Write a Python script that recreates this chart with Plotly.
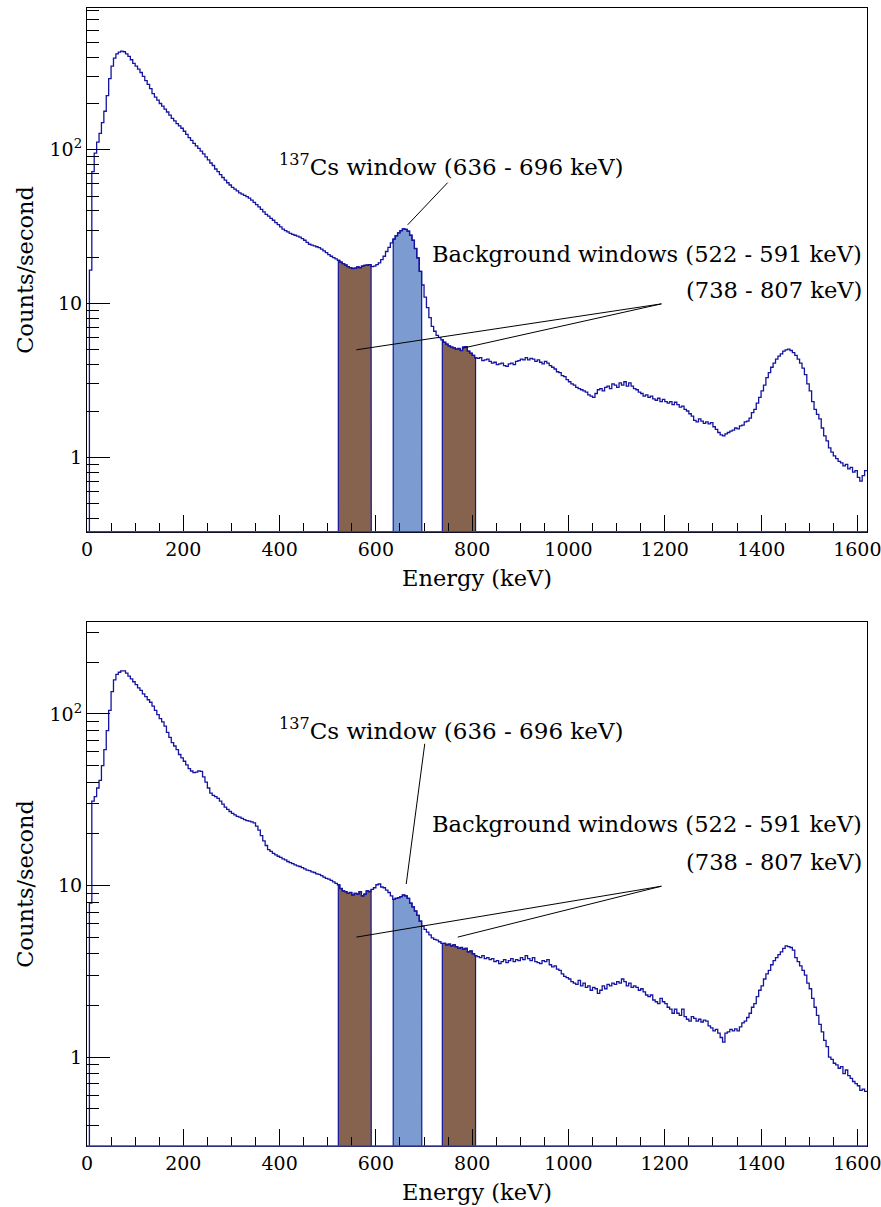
import plotly.graph_objects as go

# ---------------- data ----------------
ENERGY_EDGES = list(range(5, 1625, 5))  # keV bin edges, 5 keV bins from 5 to 1620

COUNTS_TOP = [
    16.5, 72, 95, 112, 128, 150, 178, 225, 290, 350, 395, 420, 432, 438, 434, 420, 405, 385, 365,
    350, 335, 318, 300, 282, 266, 250, 232, 220, 210, 200, 192, 184, 176, 168, 160, 154, 148, 143, 138,
    132, 126, 120, 115, 110, 106, 102, 98, 94, 90, 86, 82, 79, 75, 72, 69, 66, 63.5, 61, 59,
    57, 55.5, 54, 52.5, 51.5, 50.5, 49.5, 48.5, 47, 45.5, 44, 42.5, 41, 39.5, 38, 37, 35.8, 34.8, 33.6, 32.6,
    31.5, 30.5, 29.8, 29.2, 28.6, 28.2, 27.8, 27.4, 27, 26.4, 25.8, 25, 24.3, 24, 23.7, 23.4, 23.1, 22.6, 22, 21.4,
    20.8, 20.3, 19.9, 19.5, 19.1, 18.6, 18.2, 17.8, 17.4, 17.1, 16.9, 17.0, 17.3, 17.1, 17.5, 17.7, 17.8, 17.9, 17.4, 17.5,
    17.9, 18.4, 19.3, 20.3, 21.8, 23.2, 24.8, 26.2, 27.6, 28.8, 29.8, 30.6, 30.4, 29.6, 27.8, 25.8, 22.8, 19.8, 16.2, 13.2,
    11.0, 9.4, 8.1, 7.1, 6.6, 6.2, 6.0, 5.8, 5.6, 5.45, 5.3, 5.2, 5.15, 5.05, 5.1, 4.95, 5.2, 5.25, 4.9, 4.75,
    4.6, 4.45, 4.4, 4.45, 4.25, 4.3, 4.35, 4.2, 4.1, 4.15, 4.0, 4.05, 4.1, 3.95, 3.9, 4.05, 4.1, 4.0, 4.2, 4.25,
    4.35, 4.3, 4.45, 4.3, 4.4, 4.35, 4.2, 4.3, 4.15, 4.05, 4.2, 4.1, 3.95, 3.85, 3.75, 3.6, 3.55, 3.4, 3.35, 3.2,
    3.1, 3.0, 2.95, 2.85, 2.8, 2.75, 2.7, 2.65, 2.55, 2.5, 2.45, 2.6, 2.75, 2.8, 2.7, 2.85, 2.9, 2.8, 3.0, 2.95,
    2.85, 3.05, 2.95, 3.1, 2.9, 3.05, 2.9, 2.8, 2.75, 2.65, 2.6, 2.5, 2.55, 2.45, 2.5, 2.4, 2.35, 2.42, 2.3, 2.38,
    2.3, 2.25, 2.3, 2.2, 2.28, 2.2, 2.12, 2.15, 2.05, 2.0, 1.92, 1.85, 1.74, 1.7, 1.78, 1.72, 1.66, 1.7, 1.65, 1.68,
    1.58, 1.52, 1.45, 1.4, 1.38, 1.42, 1.45, 1.48, 1.5, 1.55, 1.53, 1.6, 1.62, 1.7, 1.72, 1.8, 1.95, 2.05, 2.25, 2.45,
    2.7, 2.95, 3.3, 3.55, 3.85, 4.1, 4.35, 4.55, 4.7, 4.9, 5.0, 5.05, 4.95, 4.8, 4.6, 4.35, 4.1, 3.8, 3.45, 3.0,
    2.7, 2.3, 2.05, 1.9, 1.78, 1.55, 1.38, 1.28, 1.15, 1.08, 1.02, 0.98, 0.94, 0.92, 0.88, 0.9, 0.84, 0.86, 0.8, 0.82,
    0.74, 0.7, 0.76, 0.82,
]

COUNTS_BOTTOM = [
    7.9, 31, 33, 37, 41, 50, 62, 80, 105, 135, 158, 170, 175, 178, 178, 173, 166, 160, 154,
    148, 142, 137, 131, 126, 121, 117, 111, 105, 99, 94, 90, 85, 78, 73, 68, 65, 62, 58, 55.5,
    53, 50.5, 48, 46.5, 45.5, 45.8, 46.6, 46.2, 43, 40, 37, 34.5, 33.5, 33, 32.2, 31, 29.8, 28.6, 27.8, 27,
    26.3, 25.8, 25.3, 25, 24.6, 24.2, 23.9, 23.7, 23.5, 23.2, 22.2, 21, 19.5, 18.2, 17.1, 16.2, 15.8, 15.4, 15.1, 14.8,
    14.6, 14.3, 14.1, 13.8, 13.6, 13.4, 13.2, 13.0, 12.9, 12.7, 12.5, 12.3, 12.2, 12.0, 11.9, 11.7, 11.6, 11.4, 11.2, 11.0,
    10.9, 10.7, 10.5, 10.3, 10.1, 9.6, 9.3, 9.2, 9.0, 9.1, 8.8, 9.0, 8.9, 9.2, 8.7, 8.9, 9.3, 9.2, 9.5, 9.7,
    10.1, 10.2, 9.8, 9.7, 9.4, 9.1, 8.7, 8.3, 8.4, 8.5, 8.6, 8.8, 8.7, 8.4, 7.9, 7.5, 7.1, 6.7, 6.2, 5.8,
    5.55, 5.35, 5.15, 4.95, 4.85, 4.8, 4.7, 4.6, 4.6, 4.5, 4.55, 4.45, 4.5, 4.4, 4.3, 4.35, 4.25, 4.3, 4.1, 4.15,
    4.0, 3.9, 3.85, 3.8, 3.9, 3.75, 3.8, 3.7, 3.75, 3.6, 3.65, 3.5, 3.6, 3.7, 3.55, 3.65, 3.75, 3.6, 3.7, 3.65,
    3.8, 3.7, 3.9, 3.75, 3.65, 3.8, 3.6, 3.55, 3.5, 3.65, 3.6, 3.7, 3.45, 3.35, 3.4, 3.25, 3.2, 3.05, 2.95, 2.9,
    2.85, 2.75, 2.7, 2.65, 2.8, 2.6, 2.7, 2.55, 2.6, 2.45, 2.55, 2.5, 2.35, 2.45, 2.6, 2.5, 2.65, 2.6, 2.7, 2.65,
    2.75, 2.7, 2.85, 2.75, 2.6, 2.7, 2.55, 2.6, 2.55, 2.45, 2.5, 2.4, 2.3, 2.25, 2.3, 2.15, 2.1, 2.05, 2.2, 2.1,
    2.05, 1.95, 1.9, 1.8, 1.9, 1.8, 1.75, 1.9, 1.72, 1.66, 1.62, 1.72, 1.68, 1.62, 1.66, 1.6, 1.64, 1.62, 1.52, 1.48,
    1.42, 1.45, 1.38, 1.3, 1.22, 1.38, 1.4, 1.45, 1.42, 1.46, 1.42, 1.5, 1.58, 1.62, 1.7, 1.8, 1.95, 2.05, 2.25, 2.45,
    2.6, 2.85, 3.05, 3.2, 3.45, 3.65, 3.8, 3.95, 4.1, 4.3, 4.45, 4.4, 4.35, 4.2, 3.8, 3.6, 3.4, 3.2, 3.0, 2.7,
    2.5, 2.2, 1.95, 1.75, 1.55, 1.4, 1.25, 1.15, 1.0, 0.97, 0.92, 0.9, 0.86, 0.88, 0.8, 0.84, 0.78, 0.75, 0.72, 0.7,
    0.68, 0.64, 0.65, 0.63,
]

CS_WINDOW = (636, 696)
BG_WINDOWS = [(522, 591), (738, 807)]

X_TICKS = [0, 200, 400, 600, 800, 1000, 1200, 1400, 1600]
Y_TICK_VALS = [1, 10, 100]
Y_TICK_TEXT = ["1", "10", "10<sup>2</sup>"]
Y_MINOR_VALS = [0.3, 0.4, 0.5, 0.6, 0.7, 0.8, 0.9, 2, 3, 4, 5, 6, 7, 8, 9,
                20, 30, 40, 50, 60, 70, 80, 90, 200, 300, 400, 500, 600, 700, 800, 900]

CS_LABEL = "<sup>137</sup>Cs window (636 - 696 keV)"
BG_LABEL_1 = "Background windows (522 - 591 keV)"
BG_LABEL_2 = "(738 - 807 keV)"

POINTERS_TOP = [((749, 61.1), (666, 32.5)),
                ((1193, 9.95), (559.5, 5.0)),
                ((1193, 9.95), (781, 5.13))]
POINTERS_BOTTOM = [((701.5, 67), (663, 10.2)),
                   ((1193, 9.9), (559.5, 5.0)),
                   ((1193, 9.9), (770, 5.0))]

# ---------------- styling ----------------
FONT = "DejaVu Serif"
LINE_BLUE = "#1414a0"
BROWN = "#85634f"
LIGHT_BLUE = "#7b9bd1"
FLOOR = 1e-3

fig = go.Figure()


def window_polygon(edges, counts, a, b):
    xs, ys = [a], [FLOOR]
    for i, c in enumerate(counts):
        lo, hi = edges[i], edges[i + 1]
        if hi <= a or lo >= b:
            continue
        xs += [max(lo, a), min(hi, b)]
        ys += [c, c]
    xs += [b, a]
    ys += [FLOOR, FLOOR]
    return xs, ys


def add_panel(counts, xa, ya, pointers):
    for (a, b) in BG_WINDOWS:
        xs, ys = window_polygon(ENERGY_EDGES, counts, a, b)
        fig.add_trace(go.Scatter(x=xs, y=ys, mode="lines", fill="toself",
                                 fillcolor=BROWN, line=dict(color=LINE_BLUE, width=1.2),
                                 xaxis=xa, yaxis=ya, showlegend=False, hoverinfo="skip"))
    a, b = CS_WINDOW
    xs, ys = window_polygon(ENERGY_EDGES, counts, a, b)
    fig.add_trace(go.Scatter(x=xs, y=ys, mode="lines", fill="toself",
                             fillcolor=LIGHT_BLUE, line=dict(color=LINE_BLUE, width=1.2),
                             xaxis=xa, yaxis=ya, showlegend=False, hoverinfo="skip"))
    x = [ENERGY_EDGES[0]] + ENERGY_EDGES
    y = [FLOOR] + counts + [counts[-1]]
    fig.add_trace(go.Scatter(x=x, y=y, mode="lines", line=dict(color=LINE_BLUE, width=1.3, shape="hv"),
                             xaxis=xa, yaxis=ya, showlegend=False, hoverinfo="skip"))
    for (p0, p1) in pointers:
        fig.add_trace(go.Scatter(x=[p0[0], p1[0]], y=[p0[1], p1[1]], mode="lines",
                                 line=dict(color="black", width=1),
                                 xaxis=xa, yaxis=ya, showlegend=False, hoverinfo="skip"))


add_panel(COUNTS_TOP, "x", "y", POINTERS_TOP)
add_panel(COUNTS_BOTTOM, "x2", "y2", POINTERS_BOTTOM)

tickfont = dict(family=FONT, size=19, color="black")
xcommon = dict(range=[0, 1620], tickmode="array", tickvals=X_TICKS, ticks="inside", ticklen=17,
               tickcolor="black", tickwidth=1, showgrid=False, zeroline=False, showline=True,
               linecolor="black", linewidth=1, mirror=True, tickfont=tickfont,
               automargin=False, ticklabeloverflow="allow",
               minor=dict(ticks="inside", ticklen=9, dtick=50, tick0=0, tickcolor="black", showgrid=False))
ycommon = dict(type="log", tickmode="array", tickvals=Y_TICK_VALS, ticktext=Y_TICK_TEXT,
               ticks="inside", ticklen=23, tickcolor="black", tickwidth=1, showgrid=False,
               zeroline=False, showline=True, linecolor="black", linewidth=1, mirror=True,
               tickfont=tickfont, automargin=False,
               minor=dict(ticks="inside", ticklen=12, tickmode="array", tickvals=Y_MINOR_VALS,
                          tickcolor="black", showgrid=False))

fig.update_layout(
    width=881, height=1207,
    margin=dict(l=87, r=14, t=8, b=61),
    paper_bgcolor="white", plot_bgcolor="white",
    font=dict(family=FONT, color="black"),
    xaxis=dict(domain=[0, 1], anchor="y", **xcommon),
    yaxis=dict(domain=[0.5398, 1.0], anchor="x", range=[-0.484, 2.922], **ycommon),
    xaxis2=dict(domain=[0, 1], anchor="y2", **xcommon),
    yaxis2=dict(domain=[0.0, 0.4607], anchor="x2", range=[-0.5186, 2.5375], **ycommon),
)

annfont = dict(family=FONT, size=23, color="black")
bgfont = dict(family=FONT, size=22.6, color="black")
titlefont = dict(family=FONT, size=22.5, color="black")
anns = []
for (xr, yr, cs_y, bg1_y, bg2_y) in [("x", "y", 1.903, 1.3236, 1.0892),
                                     ("x2", "y2", 1.912, 1.361, 1.1357)]:
    anns.append(dict(text=CS_LABEL, x=755, y=cs_y, xref=xr, yref=yr, showarrow=False,
                     xanchor="center", yanchor="middle", font=annfont))
    anns.append(dict(text=BG_LABEL_1, x=1613, y=bg1_y, xref=xr, yref=yr, showarrow=False,
                     xanchor="right", yanchor="middle", font=bgfont))
    anns.append(dict(text=BG_LABEL_2, x=1613, y=bg2_y, xref=xr, yref=yr, showarrow=False,
                     xanchor="right", yanchor="middle", font=bgfont))
    anns.append(dict(text="Energy (keV)", x=0.5, y=0, xref=xr + " domain", yref=yr + " domain",
                     showarrow=False, xanchor="center", yanchor="middle", yshift=-46, font=titlefont))
    anns.append(dict(text="Counts/second", x=0, y=0.5, xref=xr + " domain", yref=yr + " domain",
                     showarrow=False, xanchor="center", yanchor="middle", xshift=-62,
                     textangle=-90, font=titlefont))
fig.update_layout(annotations=anns)

shapes = []
for xr, yr in [("x", "y"), ("x2", "y2")]:
    shapes.append(dict(type="line", xref=xr + " domain", yref=yr + " domain", x0=0, x1=1, y0=0, y1=0,
                       line=dict(color="#3c3cae", width=1.3), layer="above"))
fig.update_layout(shapes=shapes)

fig.write_html("out.html")
